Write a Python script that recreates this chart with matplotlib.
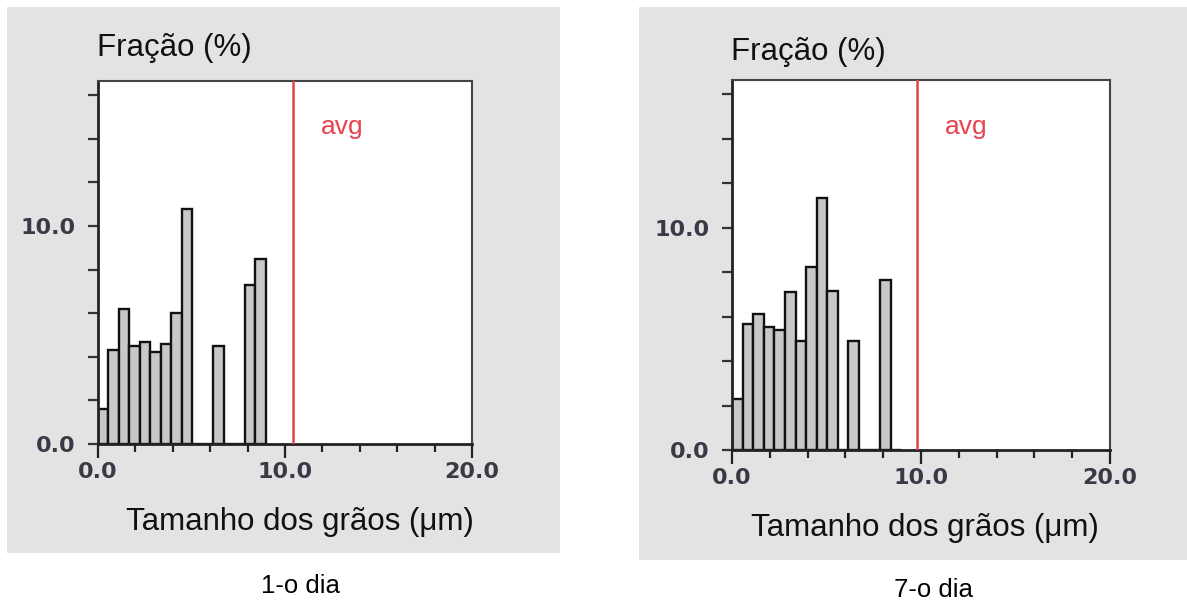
from matplotlib import pyplot as plt
from matplotlib.patches import Rectangle
import numpy as np

#Histogram data
bin_width = 0.56
bin_start = [0.0, 0.56, 1.12, 1.68, 2.24, 2.80, 3.36, 3.92, 4.48, 5.04,
             5.60, 6.16, 6.72, 7.28, 7.84, 8.40]
fraction_day1 = [1.6, 4.3, 6.2, 4.5, 4.7, 4.2, 4.6, 6.0, 10.8, 0.0,
                 0.0, 4.5, 0.0, 0.0, 7.3, 8.5]
fraction_day7 = [2.3, 5.65, 6.1, 5.55, 5.4, 7.1, 4.9, 8.25, 11.35, 7.15,
                 0.0, 4.9, 0.0, 0.0, 7.65, 0.0]
avg_day1 = 10.43
avg_day7 = 9.78
panel_names = ["1-o dia", "7-o dia"]

y_label = "Fração (%)"
x_label = "Tamanho dos grãos (\u03bcm)"

W, H = 1187, 603
fig = plt.figure(figsize=(W / 100, H / 100), dpi=100)
fig.patch.set_facecolor("white")

def px_box(x0, y0, x1, y1):
    #pixel box (top-left origin) to figure fraction rect
    return [x0 / W, 1 - y1 / H, (x1 - x0) / W, (y1 - y0) / H]

#gray panel backgrounds (behind the axes)
for box in [(7, 7, 560, 553), (639, 7, 1187, 560)]:
    r = px_box(*box)
    fig.patches.append(Rectangle((r[0], r[1]), r[2], r[3], transform=fig.transFigure,
                                 facecolor="#e3e3e3", edgecolor="none", zorder=-10))

panels = [
    dict(data=fraction_day1, avg=avg_day1, box=(98, 81, 472, 444),
         title_xy=(97, 48), xlab_xy=(300, 522), name_xy=(300, 586)),
    dict(data=fraction_day7, avg=avg_day7, box=(732, 80, 1110, 450),
         title_xy=(731, 52), xlab_xy=(925, 528), name_xy=(933, 590)),
]

text_font = ["Liberation Sans", "DejaVu Sans"]
tick_color = "#3a3a46"

for i, p in enumerate(panels):
    ax = fig.add_axes(px_box(*p["box"]))
    ax.set_zorder(1)
    ax.set_facecolor("white")
    ax.bar(bin_start, p["data"], width=bin_width, align="edge",
           color="#c8c8c8", edgecolor="#111111", linewidth=1.7, zorder=2)
    ax.axvline(p["avg"], color="#e8434c", linewidth=1.8, zorder=3)
    ax.text(p["avg"] + 1.5, 14.55, "avg", color="#e8434c", fontsize=19,
            family=text_font, va="center", ha="left")

    ax.set_xlim(0, 20)
    ax.set_ylim(0, 16.65)
    ax.set_xticks([0, 10, 20])
    ax.set_xticklabels(["0.0", "10.0", "20.0"])
    ax.set_xticks(np.arange(2, 20, 2), minor=True)
    ax.set_yticks(np.arange(0, 17, 2))
    ax.set_yticklabels(["0.0", "", "", "", "", "10.0", "", "", ""])

    ax.tick_params(axis="x", which="major", direction="out", length=10, width=1.6,
                   color="#222222", labelsize=16, labelcolor=tick_color, pad=3)
    ax.tick_params(axis="x", which="minor", direction="out", length=6, width=1.6,
                   color="#222222")
    ax.tick_params(axis="y", direction="out", length=7, width=1.6, color="#333333",
                   labelsize=16, labelcolor=tick_color, pad=9)
    for lab in ax.get_xticklabels() + ax.get_yticklabels():
        lab.set_fontweight("bold")
        lab.set_family("DejaVu Sans")

    for side in ["left", "bottom"]:
        ax.spines[side].set_linewidth(2.0)
        ax.spines[side].set_color("#222222")
    for side in ["top", "right"]:
        ax.spines[side].set_linewidth(1.5)
        ax.spines[side].set_color("#444444")

    tx, ty = p["title_xy"]
    fig.text(tx / W, 1 - ty / H, y_label, fontsize=22.5, family=text_font,
             ha="left", va="center", color="#111111")
    lx, ly = p["xlab_xy"]
    fig.text(lx / W, 1 - ly / H, x_label, fontsize=22.5, family=text_font,
             ha="center", va="center", color="#111111")
    nx, ny = p["name_xy"]
    fig.text(nx / W, 1 - ny / H, panel_names[i], fontsize=18.5, family=text_font,
             ha="center", va="center", color="black")

fig.savefig("out.png", dpi=100)
